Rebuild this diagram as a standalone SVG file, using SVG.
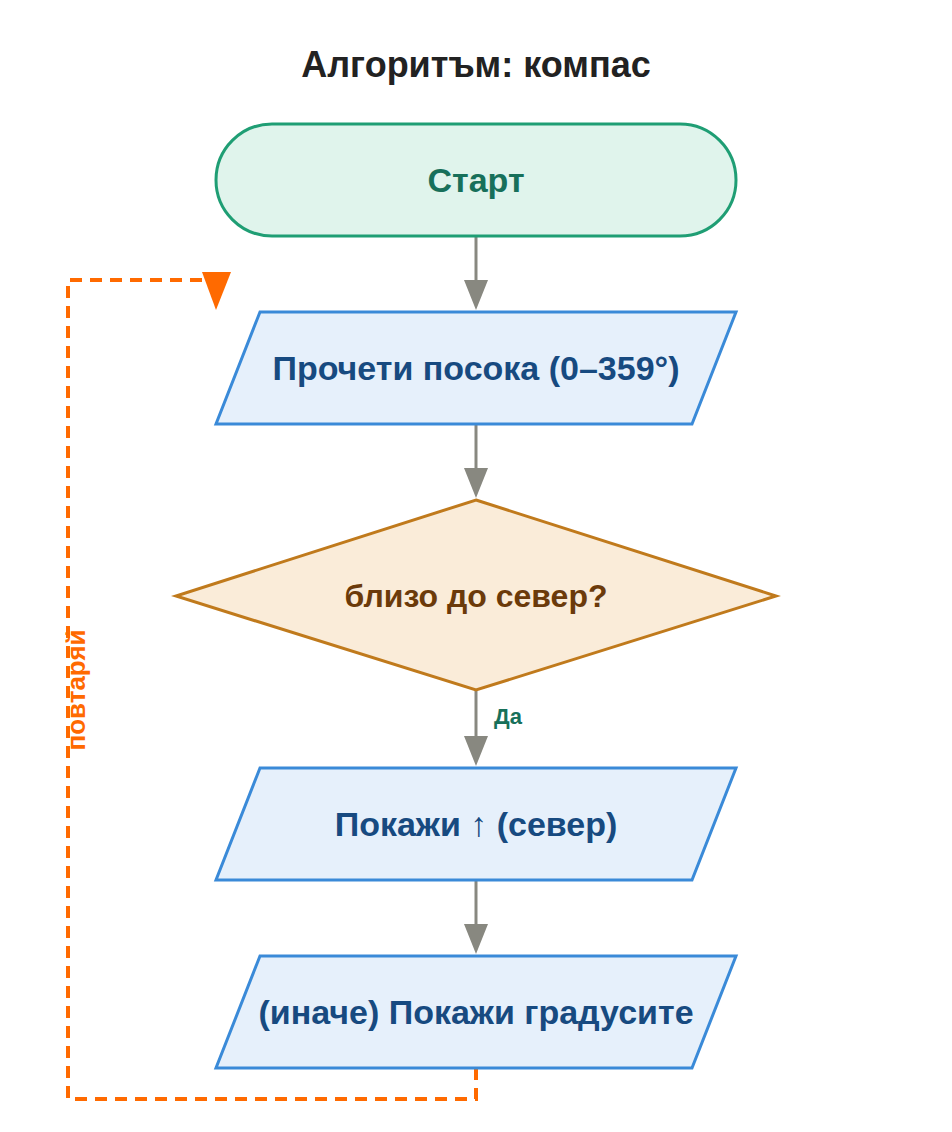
<svg xmlns="http://www.w3.org/2000/svg" width="952" height="1132" viewBox="0 0 952 1132">
<style>
text{font-family:"Liberation Sans",Arial,sans-serif;font-weight:bold;text-anchor:middle;dominant-baseline:central}
.io{fill:#e6f0fb;stroke:#3a8ad8;stroke-width:3}
.iot{fill:#174a80;font-size:34px}
.c{stroke:#888880;stroke-width:3;fill:none}
</style>
<rect width="952" height="1132" fill="#fff"/>
<text x="476" y="64" font-size="36" fill="#222">Алгоритъм: компас</text>
<g id="connectors">
<path class="c" d="M476,236V282"/><polygon points="464,280 488,280 476,310" fill="#888880"/>
<path class="c" d="M476,424V470"/><polygon points="464,468 488,468 476,498" fill="#888880"/>
<path class="c" d="M476,690V738"/><polygon points="464,736 488,736 476,766" fill="#888880"/>
<path class="c" d="M476,880V926"/><polygon points="464,924 488,924 476,954" fill="#888880"/>
<text x="508" y="716" font-size="22" fill="#17705a">Да</text>
<path d="M476,1068V1099H68V280H210" fill="none" stroke="#ff6a00" stroke-width="4" stroke-dasharray="12,8"/>
<polygon points="202,272 231,272 216,310" fill="#ff6a00"/>
<text x="76" y="690" font-size="26" fill="#ff6a00" transform="rotate(-90 76 690)">повтаряй</text>
</g>
<g id="start"><rect x="216" y="124" width="520" height="112" rx="56" fill="#e0f4ec" stroke="#1f9e74" stroke-width="3"/><text x="476" y="180" font-size="34" fill="#17705a">Старт</text></g>
<g id="read"><polygon class="io" points="260,312 736,312 692,424 216,424"/><text class="iot" x="476" y="368">Прочети посока (0–359°)</text></g>
<g id="dec"><polygon points="476,500 776,596 476,690 176,596" fill="#faecd9" stroke="#c07a1c" stroke-width="3"/><text x="476" y="596" font-size="32" fill="#6b3a0a">близо до север?</text></g>
<g id="show"><polygon class="io" points="260,768 736,768 692,880 216,880"/><text class="iot" x="476" y="824">Покажи ↑ (север)</text></g>
<g id="else"><polygon class="io" points="260,956 736,956 692,1068 216,1068"/><text class="iot" x="476" y="1012">(иначе) Покажи градусите</text></g>
</svg>
